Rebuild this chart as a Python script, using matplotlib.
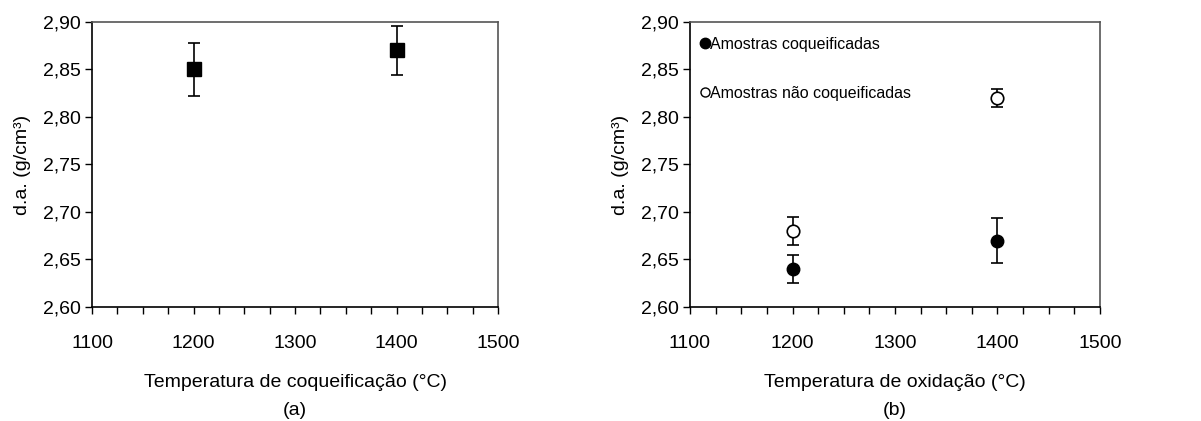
import matplotlib.pyplot as plt
from matplotlib.ticker import MultipleLocator, FuncFormatter

plt.rcParams['font.family'] = ['Liberation Sans', 'DejaVu Sans']

# (a) coqueificação
temp_a = [1200, 1400]
da_a = [2.85, 2.87]
err_a = [0.028, 0.026]

# (b) oxidação
temp_b = [1200, 1400]
da_coq = [2.64, 2.67]
err_coq = [0.015, 0.024]
da_nao = [2.68, 2.82]
err_nao = [0.015, 0.010]

legend_labels = ["Amostras coqueificadas", "Amostras não coqueificadas"]

fig = plt.figure(figsize=(12.01, 4.21), dpi=100)
W, H = 1201, 421
ax_a = fig.add_axes([92 / W, 1 - 307 / H, (498 - 92) / W, (307 - 22) / H])
ax_b = fig.add_axes([690 / W, 1 - 307 / H, (1100 - 690) / W, (307 - 22) / H])

comma = FuncFormatter(lambda v, p: f"{v:.2f}".replace(".", ","))

ax_a.errorbar(temp_a, da_a, yerr=err_a, fmt='s', color='black', ms=9.5,
              capsize=4, elinewidth=1.2, capthick=1.2)

ax_b.errorbar(temp_b, da_coq, yerr=err_coq, fmt='o', color='black', ms=9,
              capsize=4, elinewidth=1.2, capthick=1.2)
ax_b.errorbar(temp_b, da_nao, yerr=err_nao, fmt='o', color='black', mfc='white',
              mec='black', mew=1.2, ms=9, capsize=4, elinewidth=1.2, capthick=1.2)

# legend drawn as text inside the axes (as in the original)
ax_b.plot([1115], [2.878], 'o', color='black', ms=7.5, clip_on=False)
ax_b.plot([1115], [2.826], 'o', color='black', mfc='white', ms=6.5, mew=1, clip_on=False)
ax_b.text(1120, 2.876, legend_labels[0], fontsize=11.5, va='center', ha='left')
ax_b.text(1120, 2.825, legend_labels[1], fontsize=11.5, va='center', ha='left')

for ax, xlabel, tag in [(ax_a, "Temperatura de coqueificação (°C)", "(a)"),
                        (ax_b, "Temperatura de oxidação (°C)", "(b)")]:
    ax.set_xlim(1100, 1500)
    ax.set_ylim(2.60, 2.90)
    ax.xaxis.set_major_locator(MultipleLocator(100))
    ax.xaxis.set_minor_locator(MultipleLocator(25))
    ax.yaxis.set_major_locator(MultipleLocator(0.05))
    ax.yaxis.set_major_formatter(comma)
    ax.tick_params(axis='both', which='both', direction='out', length=5,
                   width=1, labelsize=14, color='black')
    ax.tick_params(axis='x', pad=15)
    ax.tick_params(axis='y', pad=3)
    for s in ['top', 'right']:
        ax.spines[s].set_color('#555555')
    for s in ax.spines.values():
        s.set_linewidth(1.2)
    ax.set_xlabel(xlabel, fontsize=14, labelpad=16)
    ax.set_ylabel("d.a. (g/cm³)", fontsize=14, labelpad=9)
    ax.text(0.5, -0.335, tag, transform=ax.transAxes, ha='center', va='top', fontsize=14)

fig.savefig("out.png", dpi=100)
